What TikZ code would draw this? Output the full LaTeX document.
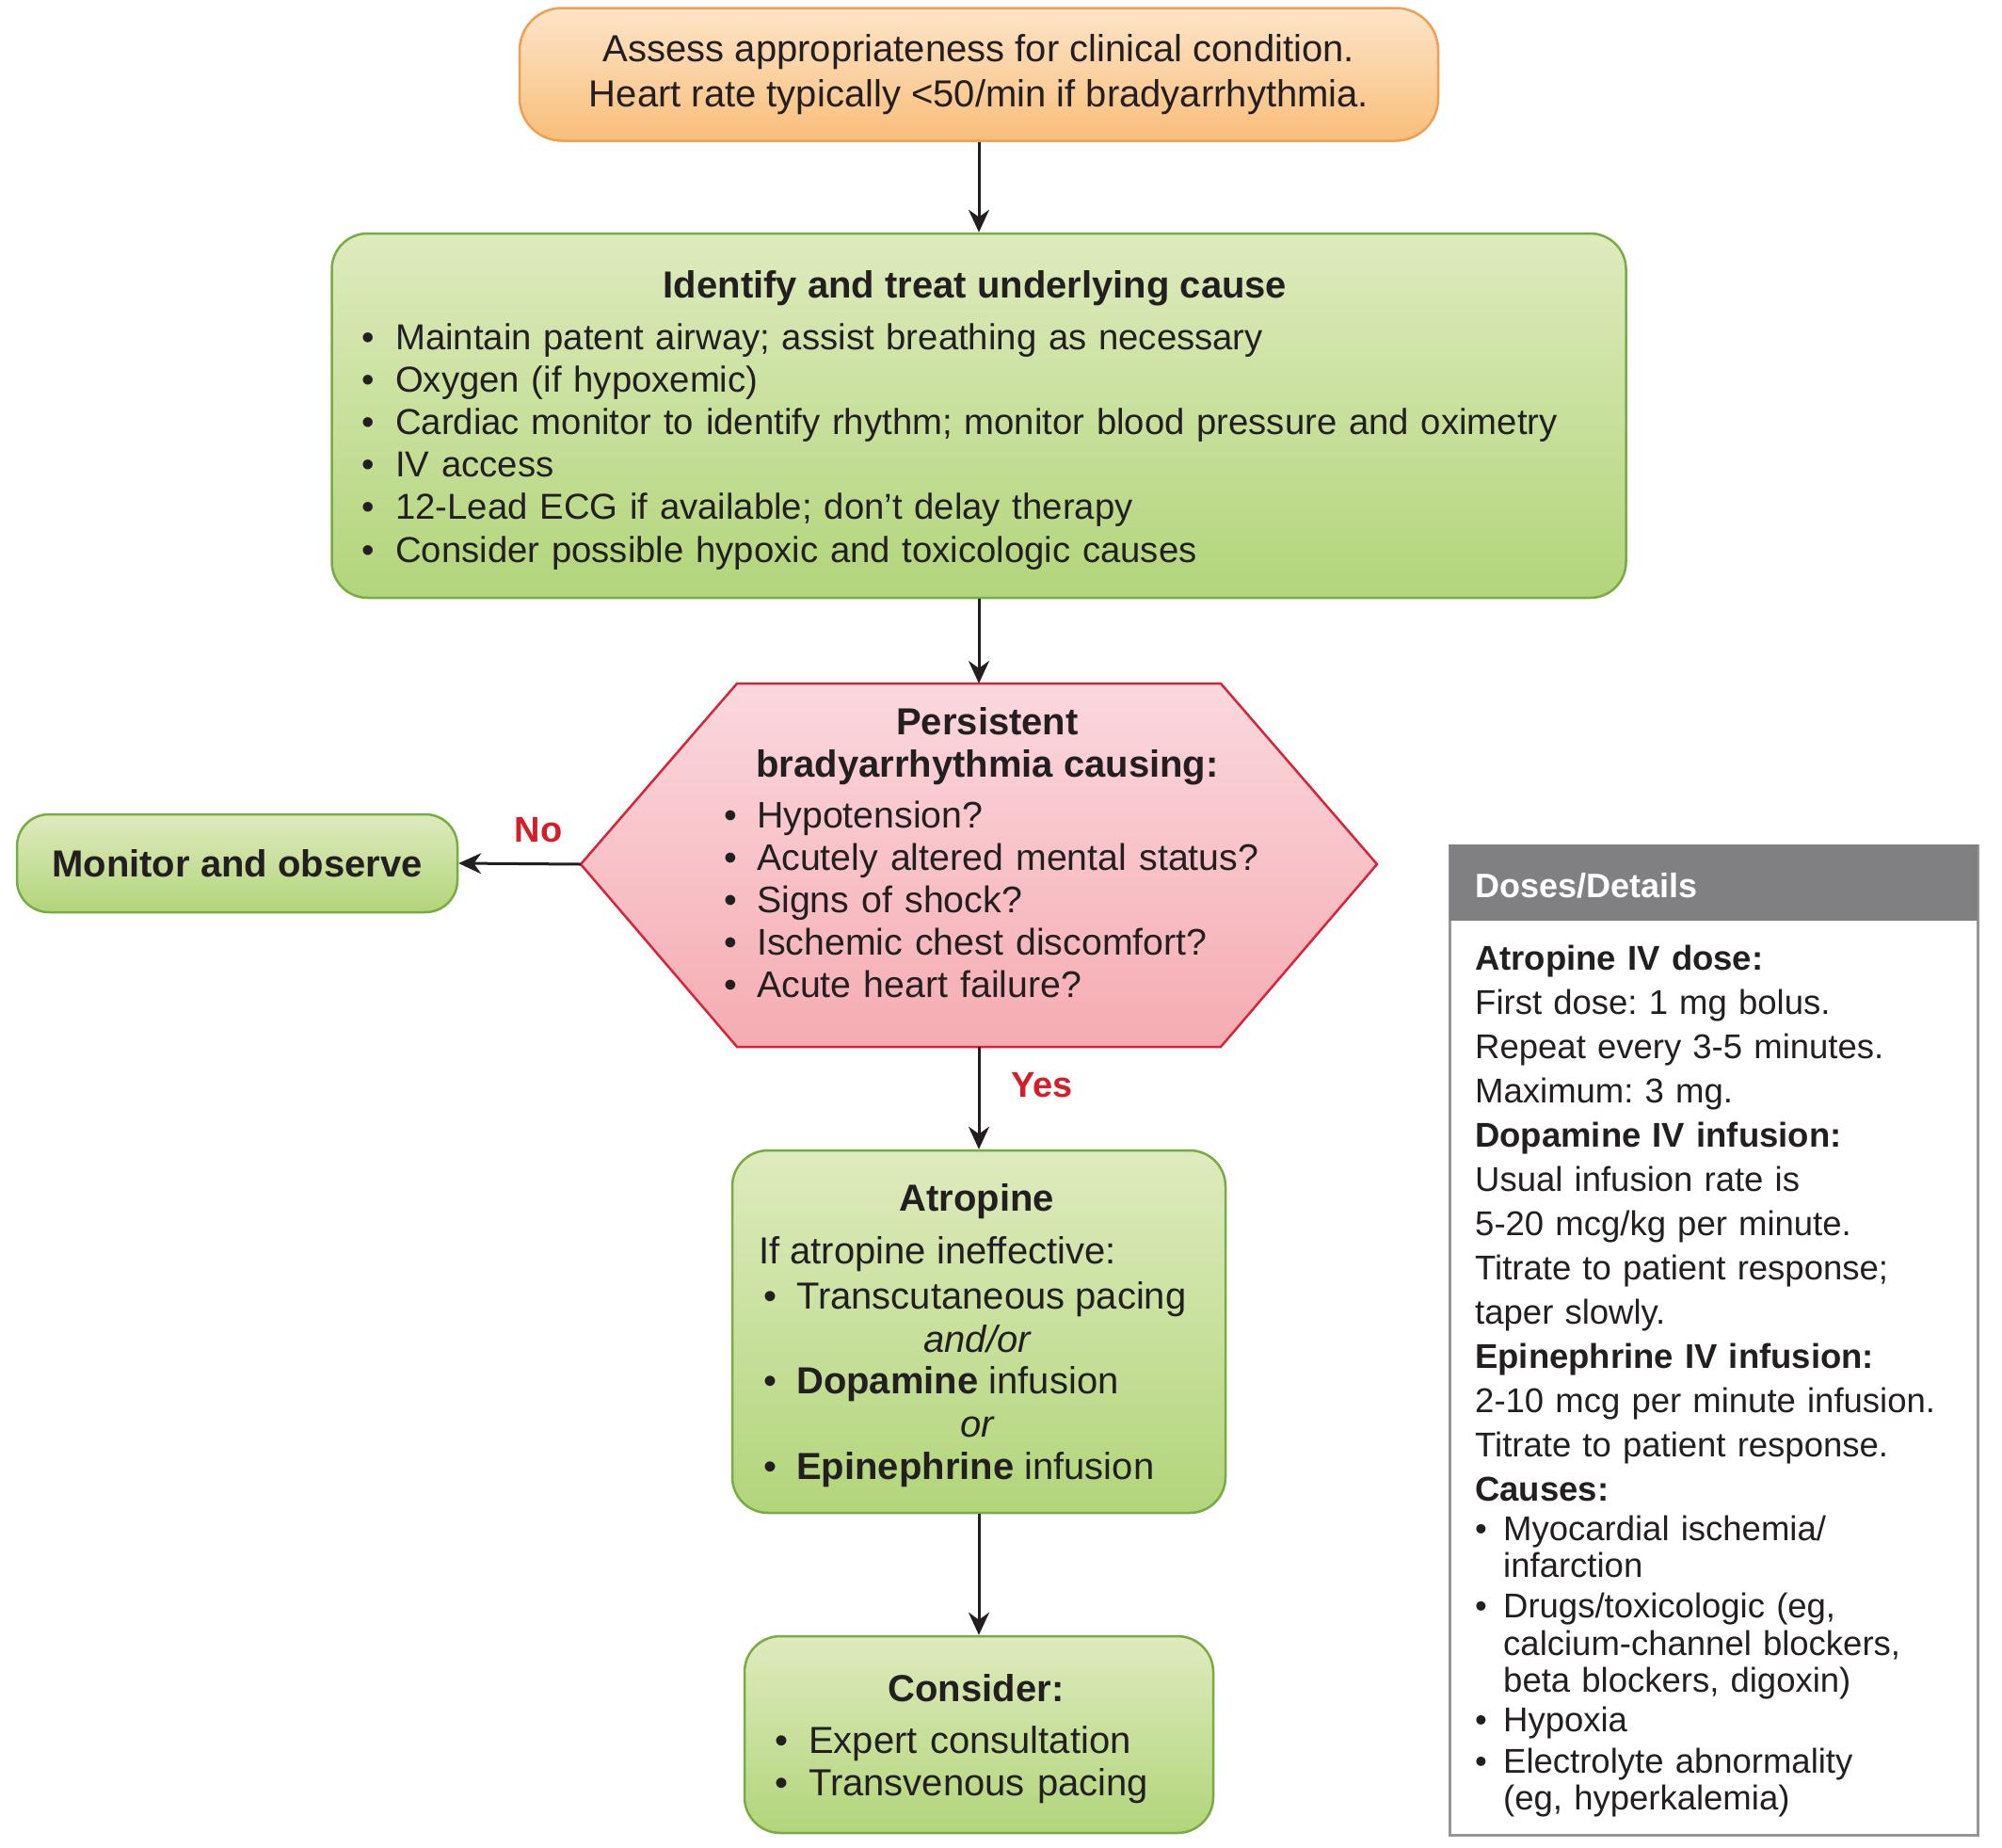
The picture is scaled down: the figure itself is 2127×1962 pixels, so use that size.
\documentclass[tikz,border=0pt]{standalone}
\usepackage{fontspec}
\setmainfont{Liberation Sans}
\usetikzlibrary{arrows.meta}
\frenchspacing
\definecolor{txt}{RGB}{35,31,32}
\definecolor{gtop}{RGB}{222,235,190}
\definecolor{gbot}{RGB}{178,213,122}
\definecolor{gborder}{RGB}{118,172,66}
\definecolor{otop}{RGB}{253,228,200}
\definecolor{obot}{RGB}{249,190,122}
\definecolor{oborder}{RGB}{238,160,80}
\definecolor{ptop}{RGB}{250,216,221}
\definecolor{pbot}{RGB}{245,172,178}
\definecolor{pborder}{RGB}{216,36,56}
\definecolor{hdrgray}{RGB}{128,128,131}
\definecolor{boxgray}{RGB}{150,150,152}
\definecolor{lblred}{RGB}{212,30,40}
\newcommand{\gbul}{\makebox[36pt][l]{\textbullet}}
\newcommand{\dbul}{\makebox[30pt][l]{\textbullet}}
\newcommand{\dind}{\hspace*{30pt}}
\tikzset{
  basetxt/.style={font=\fontsize{40}{45.2}\selectfont, text=txt, inner sep=0pt},
  greenbox/.style={draw=gborder, line width=2.5pt, top color=gtop, bottom color=gbot, rounded corners=38pt, inner sep=0pt},
  orangebox/.style={draw=oborder, line width=2.5pt, top color=otop, bottom color=obot, rounded corners=45pt, inner sep=0pt},
  listblk/.style={basetxt, anchor=base west, text width=#1, align=left},
  arr/.style={draw=txt, line width=3pt, -{Stealth[length=24pt,width=22pt]}},
  lbl/.style={font=\fontsize{38}{40}\selectfont\bfseries, text=lblred, inner sep=0pt},
}
\begin{document}
\begin{tikzpicture}[x=1pt,y=-1pt]
\useasboundingbox (0,0) rectangle (2127,1962);

% top orange box
\node[orangebox, basetxt, align=center, minimum width=976pt, minimum height=141pt] (assess) at (1040,79)
  {Assess appropriateness for clinical condition.\\[3pt]Heart rate typically <50/min if bradyarrhythmia.};

% identify box
\node[greenbox, minimum width=1375pt, minimum height=387pt] (cause) at (1040,441.5) {};
\node[basetxt, font=\fontsize{40}{45.2}\selectfont\bfseries, anchor=base] (causet) at (1036,316) {Identify and treat underlying cause};
\node[listblk=1600pt, font=\fontsize{38.3}{45.2}\selectfont] (causel) at (384,371) {%
\gbul Maintain patent airway; assist breathing as necessary\\
\gbul Oxygen (if hypoxemic)\\
\gbul Cardiac monitor to identify rhythm; monitor blood pressure and oximetry\\
\gbul IV access\\
\gbul 12-Lead ECG if available; don’t delay therapy\\
\gbul Consider possible hypoxic and toxicologic causes};

% hexagon
\coordinate (hexT) at (1040,726);
\coordinate (hexL) at (617,918);
\coordinate (hexB) at (1040,1112);
\draw[draw=pborder, line width=2.5pt, top color=ptop, bottom color=pbot, line join=miter]
  (783,726) -- (1297,726) -- (1463,918) -- (1297,1112) -- (783,1112) -- (617,918) -- cycle;
\node[basetxt, font=\fontsize{40}{45.2}\selectfont\bfseries, anchor=base] (hext1) at (1049,780) {Persistent};
\node[basetxt, font=\fontsize{40}{45.2}\selectfont\bfseries, anchor=base] (hext2) at (1049,825) {bradyarrhythmia causing:};
\node[listblk=700pt, font=\fontsize{39.3}{45.2}\selectfont] (hexl) at (769,879) {%
\makebox[35pt][l]{\textbullet}Hypotension?\\
\makebox[35pt][l]{\textbullet}Acutely altered mental status?\\
\makebox[35pt][l]{\textbullet}Signs of shock?\\
\makebox[35pt][l]{\textbullet}Ischemic chest discomfort?\\
\makebox[35pt][l]{\textbullet}Acute heart failure?};

% monitor box
\node[greenbox, basetxt, font=\fontsize{40}{45.2}\selectfont\bfseries, minimum width=468pt, minimum height=104pt, rounded corners=34pt] (monitor) at (252,917) {Monitor and observe};

% atropine box
\node[greenbox, minimum width=524pt, minimum height=385pt] (atropine) at (1040,1414.5) {};
\node[basetxt, font=\fontsize{40}{45.2}\selectfont\bfseries, anchor=base] (atrt) at (1038,1286) {Atropine};
\node[basetxt, anchor=base west] (atrif) at (806,1342) {If atropine ineffective:};
\node[basetxt, anchor=base west] (atr1) at (811,1390) {\makebox[35pt][l]{\textbullet}Transcutaneous pacing};
\node[basetxt, anchor=base, font=\fontsize{40}{45.2}\selectfont\itshape] (atrandor) at (1038,1436) {and/or};
\node[basetxt, anchor=base west] (atr2) at (811,1480) {\makebox[35pt][l]{\textbullet}\textbf{Dopamine} infusion};
\node[basetxt, anchor=base, font=\fontsize{40}{45.2}\selectfont\itshape] (atror) at (1038,1526) {or};
\node[basetxt, anchor=base west] (atr3) at (811,1571) {\makebox[35pt][l]{\textbullet}\textbf{Epinephrine} infusion};

% consider box
\node[greenbox, minimum width=498pt, minimum height=209pt] (consider) at (1040,1842.5) {};
\node[basetxt, font=\fontsize{40}{45.2}\selectfont\bfseries, anchor=base] (const) at (1037,1807) {Consider:};
\node[listblk=440pt] (consl) at (823,1862) {%
\gbul Expert consultation\\
\gbul Transvenous pacing};

% connectors
\draw[arr] (assess.south) -- (cause.north);
\draw[arr] (cause.south) -- (hexT);
\draw[arr] (hexL) -- (monitor.east);
\draw[arr] (hexB) -- (atropine.north);
\draw[arr] (atropine.south) -- (consider.north);
\node[lbl] (nolbl) at (572,882) {No};
\node[lbl] (yeslbl) at (1107,1153) {Yes};

% doses box
\node[draw=boxgray, line width=3pt, fill=white, minimum width=561pt, minimum height=1051pt, inner sep=0pt] (doses) at (1820.5,1423.5) {};
\node[fill=hdrgray, minimum width=561pt, minimum height=81pt, inner sep=0pt, anchor=north] (doshdr) at (doses.north) {};
\node[font=\fontsize{36}{40}\selectfont\bfseries, text=white, inner sep=0pt, anchor=base west] (doshdrt) at (1567,953) {Doses/Details};
\node[basetxt, font=\fontsize{36.5}{47}\selectfont, anchor=base west, text width=525pt, align=left] (dosbody) at (1567,1030) {%
\textbf{Atropine IV dose:}\\
First dose: 1 mg bolus.\\
Repeat every 3-5 minutes.\\
Maximum: 3 mg.\\
\textbf{Dopamine IV infusion:}\\
Usual infusion rate is\\
5-20 mcg/kg per minute.\\
Titrate to patient response;\\
taper slowly.\\
\textbf{Epinephrine IV infusion:}\\
2-10 mcg per minute infusion.\\
Titrate to patient response.\\
\textbf{Causes:}\\[-5pt]
\dbul Myocardial ischemia/\\[-8pt]
\dind infarction\\[-4pt]
\dbul Drugs/toxicologic (eg,\\[-7pt]
\dind calcium-channel blockers,\\[-8pt]
\dind beta blockers, digoxin)\\[-5pt]
\dbul Hypoxia\\[-3pt]
\dbul Electrolyte abnormality\\[-8pt]
\dind (eg, hyperkalemia)};
\end{tikzpicture}
\end{document}
